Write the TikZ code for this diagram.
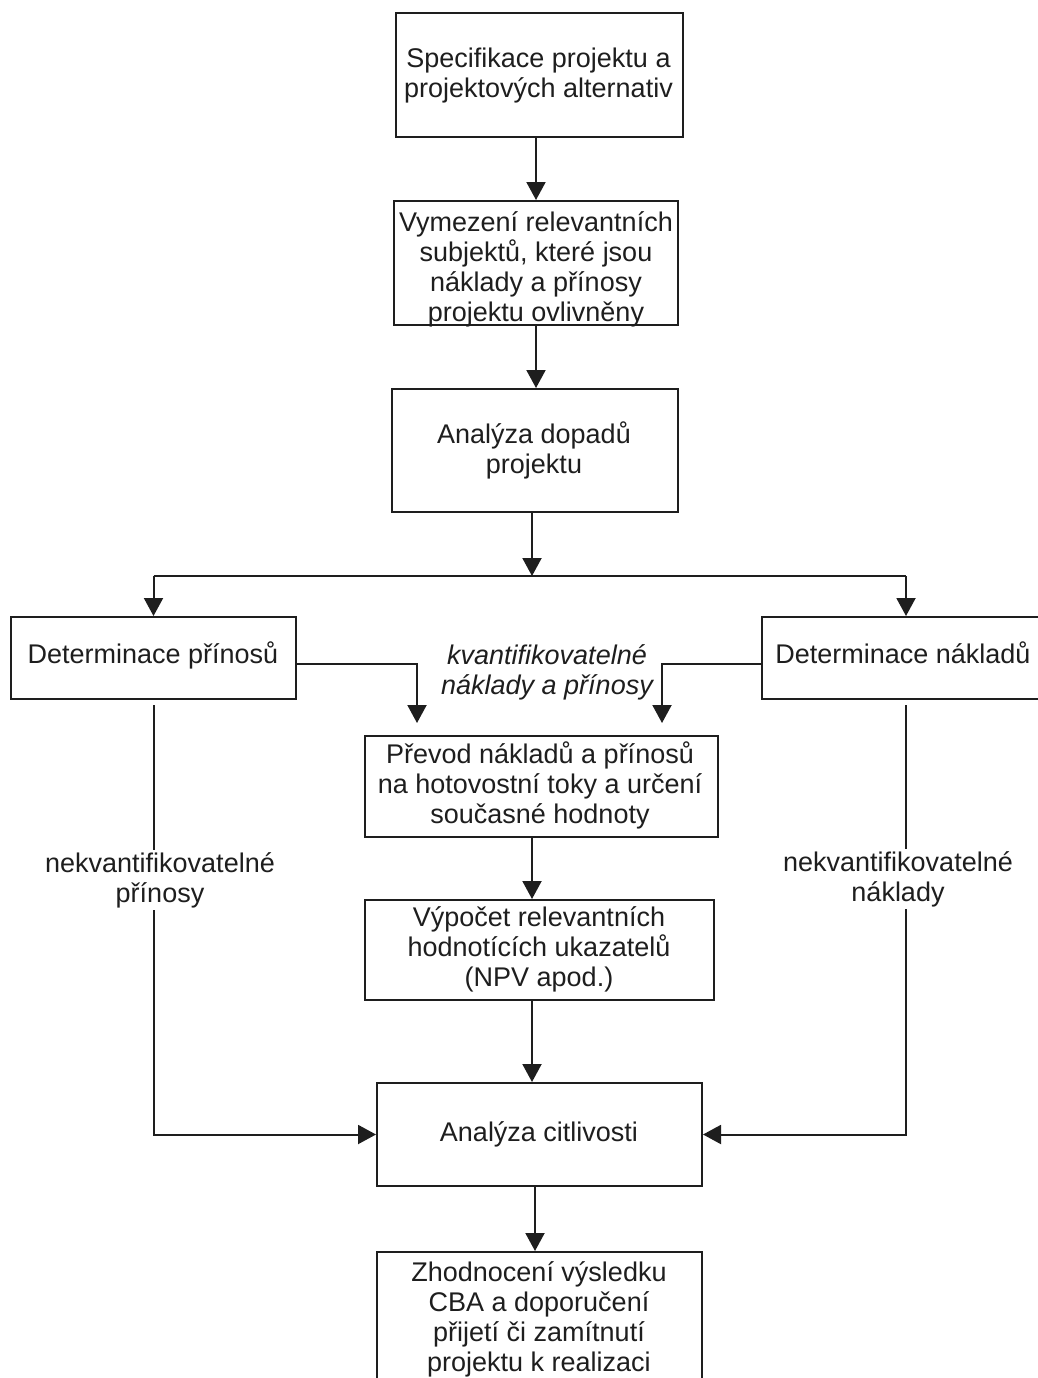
\documentclass[tikz,border=0pt]{standalone}
\usepackage{fontspec}
\setmainfont{Liberation Sans}
\usetikzlibrary{arrows.meta}
\definecolor{ink}{HTML}{1E1E1E}
\begin{document}
\begin{tikzpicture}[x=1pt,y=-1pt,
  box/.style={draw=ink, line width=2pt, inner sep=0pt, rectangle},
  txt/.style={text=ink, align=center, inner sep=0pt, font=\fontsize{27}{30}\selectfont},
  arr/.style={draw=ink, line width=2pt, -{Triangle[width=19pt,length=18pt]}}]
\useasboundingbox (0,0) rectangle (1037,1378);
\fill[white] (0,0) rectangle (1037,1378);

% boxes
\node[box, minimum width=287pt, minimum height=124pt] (b1) at (539.5,75) {};
\node[box, minimum width=284pt, minimum height=124pt] (b2) at (536,263) {};
\node[box, minimum width=286pt, minimum height=123pt] (b3) at (535,450.5) {};
\node[box, minimum width=285pt, minimum height=82pt] (b5) at (153.5,658) {};
\node[box, minimum width=288pt, minimum height=82pt] (b6) at (906,658) {};
\node[box, minimum width=353pt, minimum height=101pt] (b9) at (541.5,786.5) {};
\node[box, minimum width=349pt, minimum height=100pt] (b11) at (539.5,950) {};
\node[box, minimum width=325pt, minimum height=103pt] (b13) at (539.5,1134.5) {};
\node[box, minimum width=325pt, minimum height=132pt] (b17) at (539.5,1318) {};

% texts
\node[txt] (t1) at (538.5,76) {Specifikace projektu a\\projektových alternativ};
\node[txt] (t2) at (536,269) {Vymezení relevantních\\subjektů, které jsou\\náklady a přínosy\\projektu ovlivněny};
\node[txt] (t3) at (534,450) {Analýza dopadů\\projektu};
\node[txt, anchor=base] (t5) at (153,663) {Determinace přínosů};
\node[txt, anchor=base] (t6) at (903,663) {Determinace nákladů};
\node[txt] (t9) at (540,785) {Převod nákladů a přínosů\\na hotovostní toky a určení\\současné hodnoty};
\node[txt] (t11) at (539,949) {Výpočet relevantních\\hodnotících ukazatelů\\(NPV apod.)};
\node[txt] (t13) at (539,1134) {Analýza citlivosti};
\node[txt] (t17) at (539,1319) {Zhodnocení výsledku\\CBA a doporučení\\přijetí či zamítnutí\\projektu k realizaci};

% connectors
\coordinate (sp) at (532,576);
\coordinate (q1) at (417,723);
\coordinate (q2) at (662,723);
\draw[arr] (b1.south -| b2.north) -- (b2.north);
\draw[arr] (b2.south) -- (b2.south |- b3.north);
\draw[arr] (b3.south -| sp) -- (sp);
\draw[draw=ink, line width=2pt] (b5.north |- sp) -- (b6.north |- sp);
\draw[arr] (b5.north |- sp) -- (b5.north);
\draw[arr] (b6.north |- sp) -- (b6.north);
\draw[arr] ([yshift=-6pt]b5.east) -| (q1);
\draw[arr] ([yshift=-6pt]b6.west) -| (q2);
\draw[arr] (b9.south -| sp) -- (b11.north -| sp);
\draw[arr] (b11.south -| sp) -- (b13.north -| sp);
\draw[arr] ([xshift=-4.5pt]b13.south) -- ([xshift=-4.5pt]b17.north);
\draw[arr, shorten <=5pt] (b5.south) |- (b13.west);
\draw[arr, shorten <=5pt] (b6.south) |- (b13.east);

% labels
\node[txt, fill=white, inner sep=2pt] (l1) at (160,880) {nekvantifikovatelné\\přínosy};
\node[txt, fill=white, inner sep=2pt] (l2) at (898,879) {nekvantifikovatelné\\náklady};
\node[txt, font=\fontsize{27}{30}\selectfont\itshape] (lq) at (547,672) {kvantifikovatelné\\náklady a přínosy};
\end{tikzpicture}
\end{document}
